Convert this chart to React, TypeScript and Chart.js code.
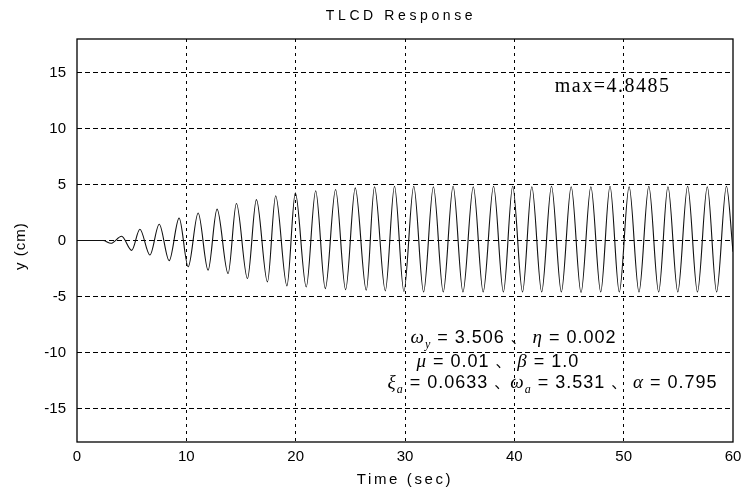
import React, { useEffect, useRef } from 'react';
import { Chart, registerables } from 'chart.js';

Chart.register(...registerables);

const TITLE = 'TLCD Response';
const X_LABEL = 'Time (sec)';
const Y_LABEL = 'y (cm)';
const MAX_NOTE = 'max=4.8485';

// axis ranges / ticks
const X_MIN = 0;
const X_MAX = 60;
const X_STEP = 10;
const Y_MIN = -18;
const Y_MAX = 18;
const Y_STEP = 5;

// response extrema (time in s, displacement in cm)
const RESP_T = [0, 2.4, 3.1, 4.08, 5.0, 5.75, 6.67, 7.52, 8.43, 9.34, 10.17, 11.08, 11.99, 12.81, 13.82, 14.58, 15.59, 16.41, 17.42, 18.17, 19.2, 19.97, 20.97, 21.83, 22.71, 23.65, 24.57, 25.45, 26.46, 27.21, 28.2, 29.04, 29.9, 30.8, 31.7, 32.6, 33.5, 34.4, 35.3, 36.25, 37.15, 38.1, 39.0, 39.85, 40.75, 41.6, 42.5, 43.4, 44.3, 45.2, 46.1, 47.0, 47.9, 48.75, 49.6, 50.5, 51.4, 52.3, 53.2, 54.05, 54.95, 55.85, 56.75, 57.65, 58.5, 59.4, 60];
const RESP_Y = [0, 0, -0.25, 0.38, -0.88, 1.0, -1.3, 1.45, -1.8, 2.0, -2.35, 2.45, -2.65, 2.8, -2.95, 3.3, -3.4, 3.65, -3.7, 4.0, -4.05, 4.25, -4.15, 4.45, -4.3, 4.55, -4.4, 4.7, -4.45, 4.8, -4.5, 4.85, -4.55, 4.85, -4.6, 4.8, -4.6, 4.85, -4.6, 4.8, -4.6, 4.85, -4.6, 4.85, -4.6, 4.8, -4.6, 4.85, -4.6, 4.8, -4.65, 4.8, -4.6, 4.85, -4.6, 4.8, -4.6, 4.85, -4.6, 4.8, -4.6, 4.85, -4.6, 4.8, -4.6, 4.85, -1.0];

// parameter annotation lines: [text, kind]  n=normal, g=greek italic, s=subscript, c=enumeration comma
type Seg = [string, string];
const PARAM_LINE_1: Seg[] = [['ω', 'g'], ['y', 's'], [' = 3.506 ', 'n'], ['、', 'c'], [' η', 'g'], [' = 0.002', 'n']];
const PARAM_LINE_2: Seg[] = [['μ', 'g'], [' = 0.01 ', 'n'], ['、', 'c'], [' β', 'g'], [' = 1.0', 'n']];
const PARAM_LINE_3: Seg[] = [['ξ', 'g'], ['a', 's'], [' = 0.0633 ', 'n'], ['、', 'c'], ['ω', 'g'], ['a', 's'], [' = 3.531 ', 'n'], ['、', 'c'], [' α', 'g'], [' = 0.795', 'n']];

function drawRich(ctx: CanvasRenderingContext2D, segs: Seg[], x: number, y: number) {
  let cx = x;
  for (const [t, k] of segs) {
    let dy = 0;
    if (k === 'n') ctx.font = '18px "Liberation Sans"';
    else if (k === 'g') ctx.font = 'italic 19px "Liberation Serif"';
    else if (k === 's') { ctx.font = 'italic 12px "Liberation Serif"'; dy = 5; }
    else ctx.font = '15px "Noto Sans CJK SC"';
    ctx.fillText(t, cx, y + dy);
    cx += ctx.measureText(t).width;
  }
}

const decor = {
  id: 'decor',
  afterDraw(chart: any) {
    const { ctx, chartArea: a, scales } = chart;
    const xs = scales.x;
    const ys = scales.y;
    ctx.save();
    ctx.setLineDash([]);
    ctx.strokeStyle = '#000';
    ctx.lineWidth = 1.3;
    ctx.strokeRect(a.left, a.top, a.right - a.left, a.bottom - a.top);

    ctx.fillStyle = '#000';
    // title
    ctx.textAlign = 'center';
    ctx.textBaseline = 'alphabetic';
    ctx.font = '14px "Liberation Sans"';
    (ctx as any).letterSpacing = '3.6px';
    ctx.fillText(TITLE, (a.left + a.right) / 2 - 4, 20);
    // x label
    ctx.font = '15px "Liberation Sans"';
    (ctx as any).letterSpacing = '2.6px';
    ctx.fillText(X_LABEL, (a.left + a.right) / 2, 484);
    // y label
    (ctx as any).letterSpacing = '1px';
    ctx.save();
    ctx.translate(25, ys.getPixelForValue(-0.5));
    ctx.rotate(-Math.PI / 2);
    ctx.fillText(Y_LABEL, 0, 0);
    ctx.restore();

    // max note
    ctx.textAlign = 'left';
    ctx.font = '20px "Liberation Serif"';
    (ctx as any).letterSpacing = '1.5px';
    ctx.fillText(MAX_NOTE, xs.getPixelForValue(43.7), ys.getPixelForValue(13.3));
    (ctx as any).letterSpacing = '1px';

    drawRich(ctx, PARAM_LINE_1, xs.getPixelForValue(30.5), ys.getPixelForValue(-9.18));
    drawRich(ctx, PARAM_LINE_2, xs.getPixelForValue(31.05), ys.getPixelForValue(-11.33));
    drawRich(ctx, PARAM_LINE_3, xs.getPixelForValue(28.4), ys.getPixelForValue(-13.2));
    ctx.restore();
  },
};

export default function App() {
  const ref = useRef<HTMLCanvasElement | null>(null);
  useEffect(() => {
    if (!ref.current) return;
    const points = RESP_T.map((t, i) => ({ x: t, y: RESP_Y[i] }));
    const chart = new Chart(ref.current, {
      type: 'line',
      data: {
        datasets: [
          {
            data: points,
            borderColor: '#111',
            borderWidth: 1.1,
            pointRadius: 0,
            fill: false,
            cubicInterpolationMode: 'monotone',
          },
        ],
      },
      options: {
        animation: false,
        responsive: true,
        maintainAspectRatio: false,
        layout: { padding: { top: 39, right: 16, left: 0, bottom: 0 } },
        plugins: { legend: { display: false }, tooltip: { enabled: false }, title: { display: false } },
        scales: {
          x: {
            type: 'linear',
            min: X_MIN,
            max: X_MAX,
            ticks: { stepSize: X_STEP, color: '#000', padding: 6, font: { family: 'Liberation Sans', size: 15 }, maxRotation: 0 },
            grid: { color: (c: any) => (c.tick && (c.tick.value === X_MIN || c.tick.value === X_MAX) ? 'rgba(0,0,0,0)' : '#000'), lineWidth: 1, drawTicks: false },
            border: { display: false, dash: [3, 4] },
            afterFit: (s: any) => { s.height = 50; },
          },
          y: {
            type: 'linear',
            min: Y_MIN,
            max: Y_MAX,
            ticks: { stepSize: Y_STEP, color: '#000', padding: 11, font: { family: 'Liberation Sans', size: 15 } },
            afterBuildTicks: (s: any) => { s.ticks = s.ticks.filter((t: any) => t.value % Y_STEP === 0); },
            grid: { color: '#000', lineWidth: 1, drawTicks: false },
            border: { display: false, dash: [5, 3] },
            afterFit: (s: any) => { s.width = 77; },
          },
        },
      },
      plugins: [decor],
    });
    return () => chart.destroy();
  }, []);
  return (
    <div style={{ position: 'fixed', left: 0, top: 0, width: 749, height: 492, background: '#fff' }}>
      <canvas ref={ref} />
    </div>
  );
}
